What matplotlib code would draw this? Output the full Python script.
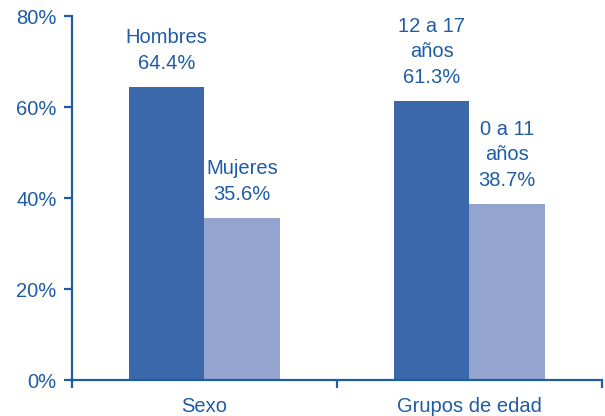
import matplotlib.pyplot as plt

# data
categories = ["Sexo", "Grupos de edad"]
first_vals = [64.4, 61.3]
second_vals = [35.6, 38.7]
first_labels = ["Hombres\n64.4%", "12 a 17\naños\n61.3%"]
second_labels = ["Mujeres\n35.6%", "0 a 11\naños\n38.7%"]
yticks = [0, 20, 40, 60, 80]

dark = "#3a68aa"
light = "#94a4cf"
blue = "#1f5ca6"

plt.rcParams['font.family'] = ['Liberation Sans', 'DejaVu Sans']
plt.rcParams['font.size'] = 14.5

fig = plt.figure(figsize=(6.05, 4.16), dpi=100)
ax = fig.add_axes([0.119, 0.0865, 0.876, 0.875])

w = 0.285
xs = list(range(len(categories)))
b1 = ax.bar([x - w / 2 for x in xs], first_vals, w, color=dark)
b2 = ax.bar([x + w / 2 for x in xs], second_vals, w, color=light)

for bars, labels in ((b1, first_labels), (b2, second_labels)):
    for bar, lab in zip(bars, labels):
        ax.annotate(lab, (bar.get_x() + bar.get_width() / 2, bar.get_height()),
                    xytext=(0, 10), textcoords="offset points",
                    ha="center", va="bottom", color=blue, linespacing=1.45)

ax.set_xlim(-0.5, 1.5)
ax.set_ylim(0, 80)
ax.set_yticks(yticks)
ax.set_yticklabels([f"{v}%" for v in yticks])
ax.set_xticks(xs)
ax.set_xticklabels(categories)
ax.set_xticks([-0.5, 0.5, 1.5], minor=True)

for s in ["top", "right"]:
    ax.spines[s].set_visible(False)
for s in ["left", "bottom"]:
    ax.spines[s].set_color(blue)
    ax.spines[s].set_linewidth(1.6)

ax.tick_params(axis="y", colors=blue, length=6, width=1.6, pad=5)
ax.tick_params(axis="x", which="major", length=0, colors=blue, pad=12)
ax.tick_params(axis="x", which="minor", length=6, width=1.6, color=blue)

fig.savefig("out.png", dpi=100)
